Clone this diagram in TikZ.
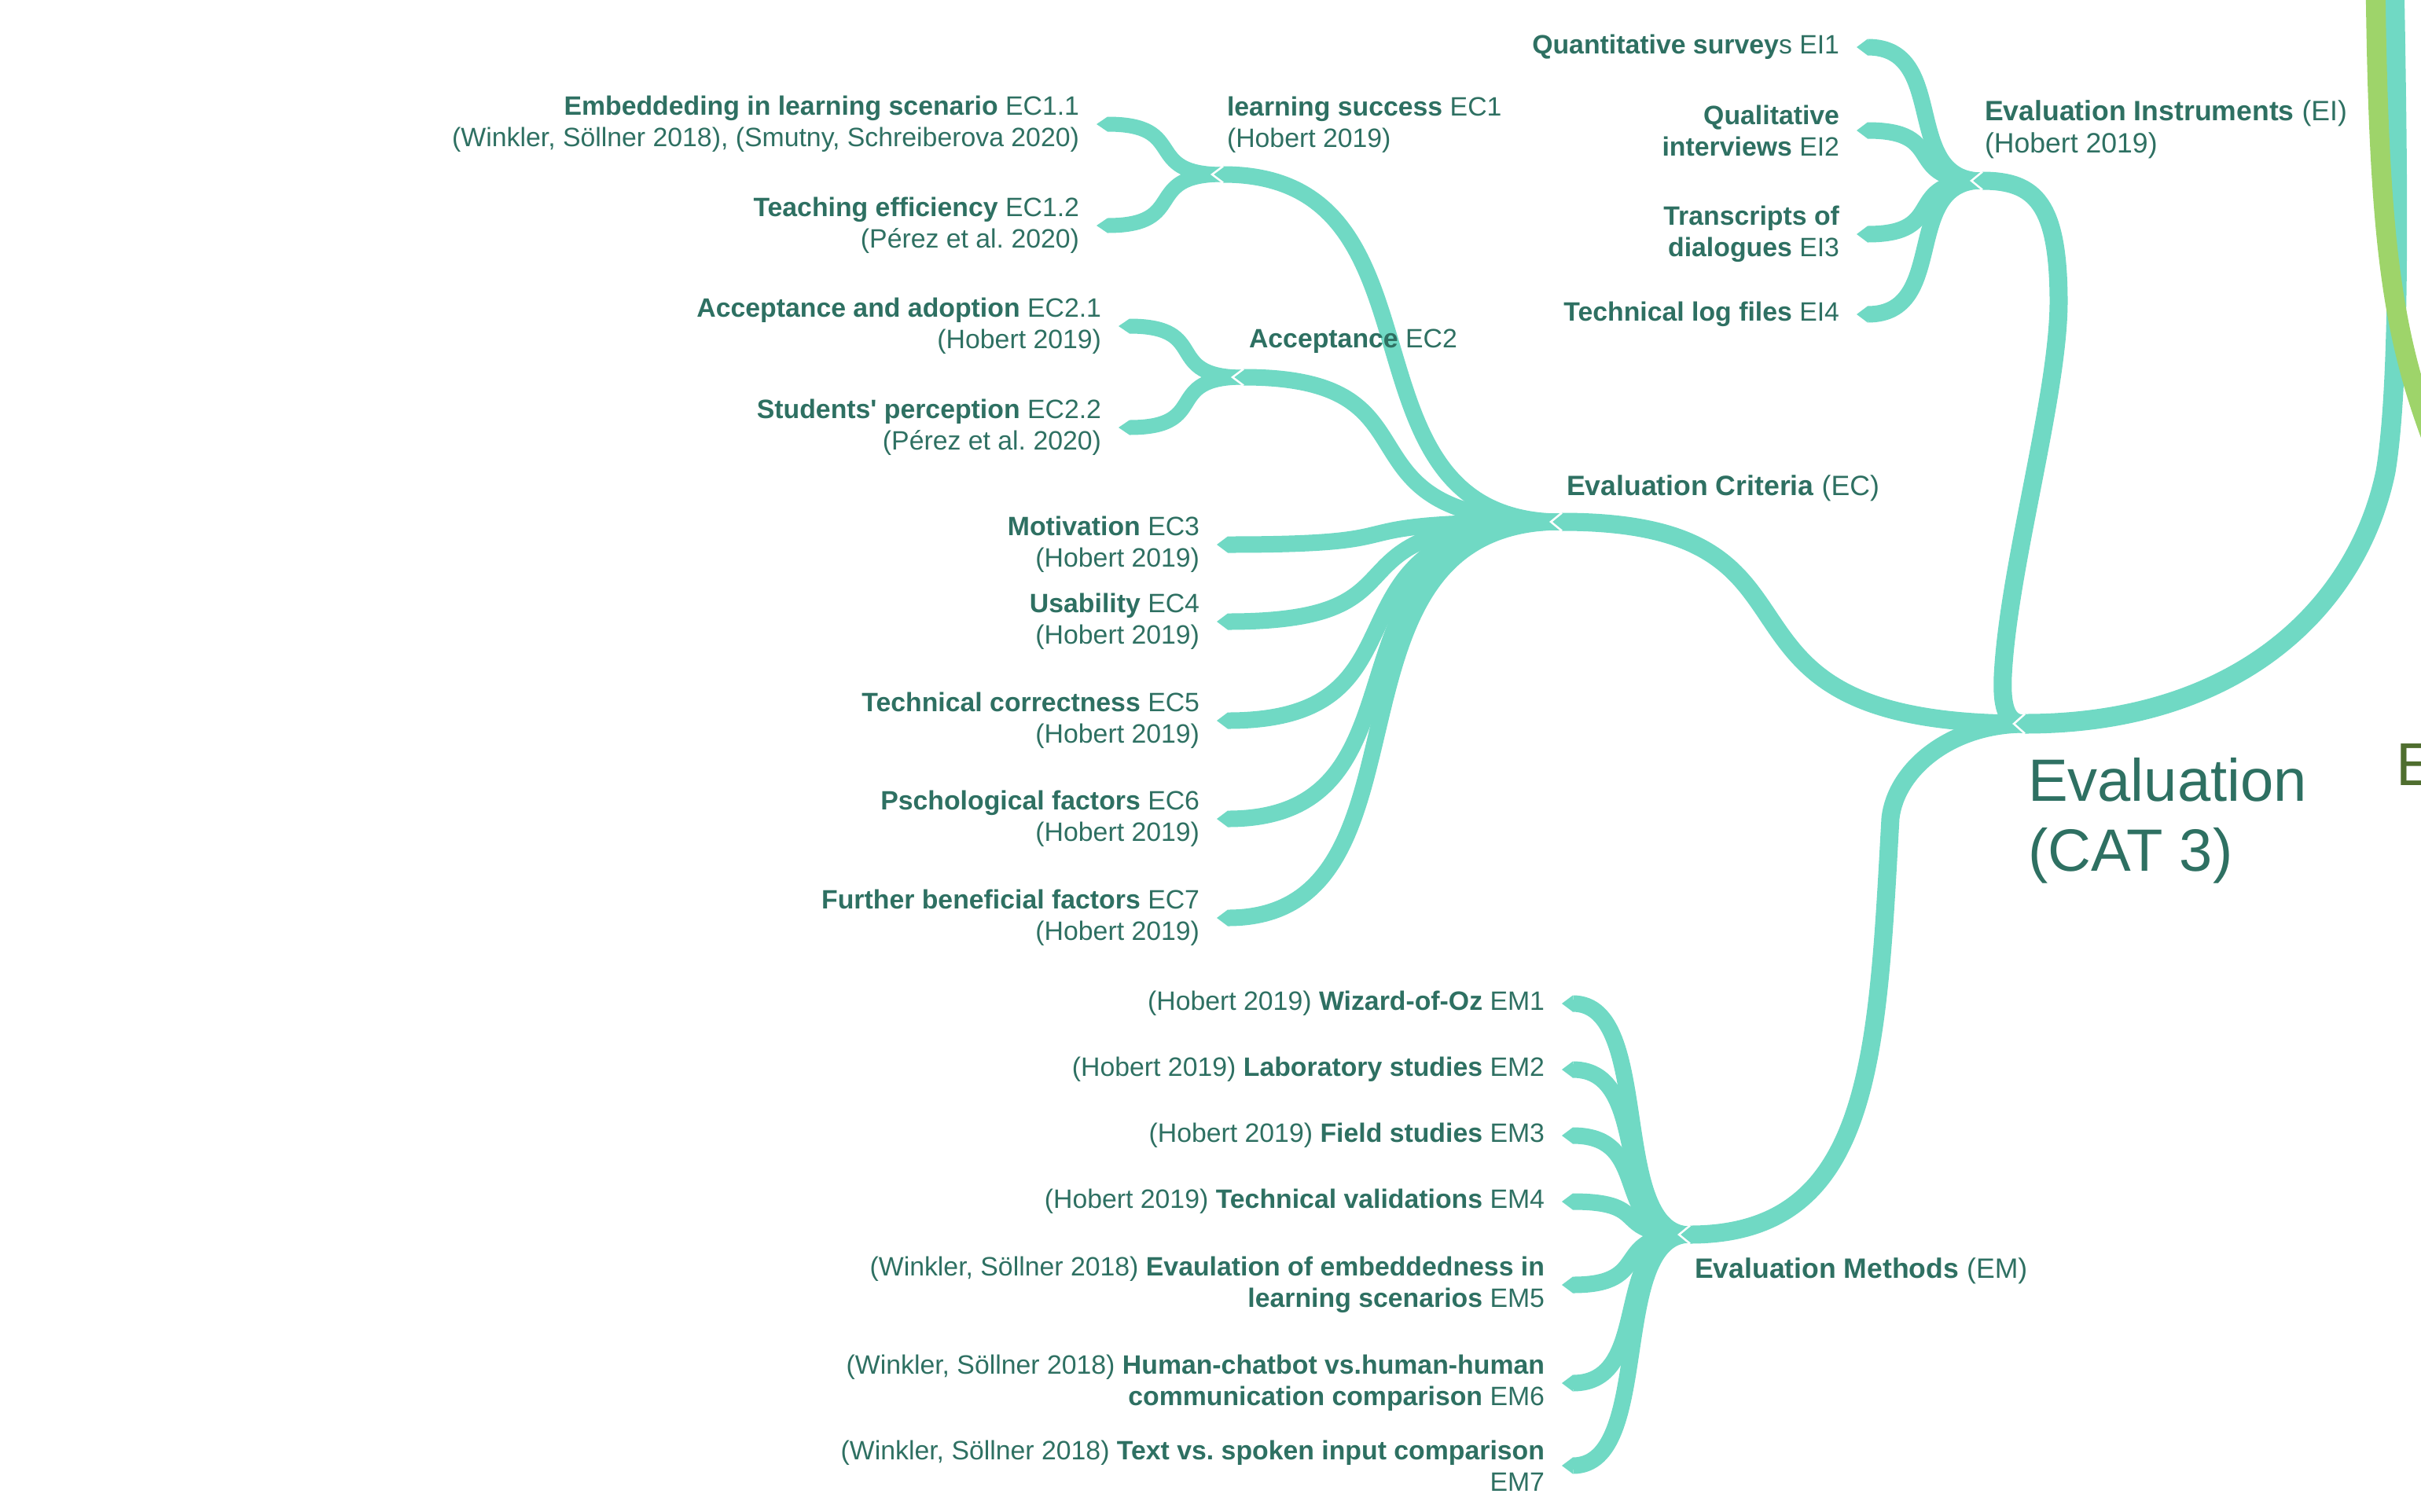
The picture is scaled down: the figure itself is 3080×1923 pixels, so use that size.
\documentclass[tikz,border=0pt]{standalone}
\usepackage{fontspec}
\setmainfont{Liberation Sans}
\usetikzlibrary{positioning}
\definecolor{branch}{HTML}{70D9C4}
\definecolor{ink}{HTML}{2E7062}
\definecolor{limb}{HTML}{9ED46A}
\definecolor{olive}{HTML}{4F6E2F}
\tikzset{
    every node/.style={inner sep=0pt, outer sep=0pt, text=ink,
    	font=\fontsize{33.8}{40}\selectfont},
    leaf/.style={anchor=east, align=right},
    sub/.style={anchor=west, align=left},
    topic/.style={anchor=west, align=left, font=\fontsize{35.6}{41}\selectfont},
    trunk/.style={draw=branch, line width=25pt},
    bough/.style={draw=branch, line width=23pt},
    twig/.style={draw=branch, line width=21pt},
    sprig/.style={draw=branch, line width=19pt},
    notch/.style={draw=white, line width=2.5pt, line join=miter}
}

\begin{document}
\begin{tikzpicture}[x=1pt, y=-1pt]
  \clip (0,0) rectangle (3080,1923);

  \coordinate (root) at (3046,-30);
  \coordinate (limb_a) at (3022,-30);
  \coordinate (limb_b) at (3110,600);
  \coordinate (eval) at (2576,921);
  \coordinate (ei) at (2522,230);
  \coordinate (ec) at (1987,664);
  \coordinate (em) at (2150,1571);
  \coordinate (ec_1) at (1556,222);
  \coordinate (ec_2) at (1582,480);
  \coordinate (ei_1) at (2376,60);
  \coordinate (ei_2) at (2376,166);
  \coordinate (ei_3) at (2376,298);
  \coordinate (ei_4) at (2376,400);
  \coordinate (ec_1_1) at (1409,158);
  \coordinate (ec_1_2) at (1409,287);
  \coordinate (ec_2_1) at (1437,415);
  \coordinate (ec_2_2) at (1437,544);
  \coordinate (ec_3) at (1562,693);
  \coordinate (ec_4) at (1562,791);
  \coordinate (ec_5) at (1562,917);
  \coordinate (ec_6) at (1562,1042);
  \coordinate (ec_7) at (1562,1168);
  \coordinate (em_1) at (2001,1277);
  \coordinate (em_2) at (2001,1361);
  \coordinate (em_3) at (2001,1445);
  \coordinate (em_4) at (2001,1529);
  \coordinate (em_5) at (2001,1635);
  \coordinate (em_6) at (2001,1760);
  \coordinate (em_7) at (2001,1865);

  \draw [trunk] (root) .. controls (3050,200) and (3055,480) .. (3035,600)
    .. controls (3000,770) and (2850,921) .. (eval);
  \draw [bough] (eval) .. controls +(-450,0) and +(380,0) .. (ec);
  \draw [bough] (eval) .. controls (2555,921) and (2546,905) .. (2548,860)
    .. controls (2555,720) and (2620,500) .. (2619,380)
    .. controls (2618,260) and (2590,230) .. (ei);
  \draw [bough] (eval) .. controls (2480,921) and (2412,980) .. (2405,1041)
    .. controls (2388,1345) and (2382,1571) .. (em);

  \draw [twig] (ec) .. controls +(-300,0) and +(300,0) .. (ec_1);
  \draw [twig] (ec) .. controls +(-310,0) and +(270,0) .. (ec_2);
  \foreach \n in {ec_3,ec_4,ec_5,ec_6,ec_7}
    \draw [twig] (ec) .. controls +(-330,0) and +(280,0) .. (\n);
  \foreach \n in {ec_1_1,ec_1_2}
    \draw [sprig] (ec_1) .. controls +(-105,0) and +(105,0) .. (\n);
  \foreach \n in {ec_2_1,ec_2_2}
    \draw [sprig] (ec_2) .. controls +(-105,0) and +(105,0) .. (\n);
  \foreach \n in {ei_1,ei_2,ei_3,ei_4}
    \draw [twig] (ei) .. controls +(-105,0) and +(105,0) .. (\n);
  \foreach \n in {em_1,em_2,em_3,em_4,em_5,em_6,em_7}
    \draw [twig] (em) .. controls +(-105,0) and +(105,0) .. (\n);

  \foreach \n/\h in {eval/12.5, ei/11.5, ec/11.5, em/11.5, ec_1/10.5, ec_2/10.5,
      ei_1/10.5, ei_2/10.5, ei_3/10.5, ei_4/10.5, ec_3/10.5, ec_4/10.5, ec_5/10.5,
      ec_6/10.5, ec_7/10.5, em_1/10.5, em_2/10.5, em_3/10.5, em_4/10.5, em_5/10.5,
      em_6/10.5, em_7/10.5, ec_1_1/9.5, ec_1_2/9.5, ec_2_1/9.5, ec_2_2/9.5}
    \fill [branch] (\n) ++(0,-\h) -- ++(-14,\h) -- ++(14,\h) -- cycle;
  \foreach \n/\h in {eval/12.5, ei/11.5, ec/11.5, em/11.5, ec_1/10.5, ec_2/10.5}
    \draw [notch] (\n) ++(0,-\h) -- ++(-14,\h) -- ++(14,\h);

  \draw [draw=limb, line width=25pt] (limb_a) .. controls (3026,330) and (3045,440) .. (limb_b);

  \node (eval_t) [anchor=west, align=left, font=\fontsize{76}{89.5}\selectfont] at (2580,1044.5) {Evaluation\\(CAT 3)};
  \node (next_t) [anchor=west, text=olive, font=\fontsize{77}{90}\selectfont] at (3048,972.5) {E};

  \node (ei_t) [topic] at (2525,165) {\textbf{Evaluation Instruments} (EI)\\(Hobert 2019)};
  \node (ec_t) [topic] at (1993,621) {\textbf{Evaluation Criteria} (EC)};
  \node (em_t) [topic] at (2156,1617) {\textbf{Evaluation Methods} (EM)};
  \node (ec_1_t) [sub] at (1561,159) {\textbf{learning success} EC1\\(Hobert 2019)};
  \node (ec_2_t) [sub] at (1589,434.5) {\textbf{Acceptance} EC2};

  \node (ei_1_t) [leaf, left=36pt of ei_1] {\textbf{Quantitative survey}s EI1};
  \node (ei_2_t) [leaf, left=36pt of ei_2] {\textbf{Qualitative}\\\textbf{interviews} EI2};
  \node (ei_3_t) [leaf, left=36pt of ei_3] {\textbf{Transcripts of}\\\textbf{dialogues} EI3};
  \node (ei_4_t) [leaf, left=36pt of ei_4] {\textbf{Technical log files} EI4};

  \node (ec_1_1_t) [leaf, left=36pt of ec_1_1] {\textbf{Embeddeding in learning scenario} EC1.1\\(Winkler, Söllner 2018), (Smutny, Schreiberova 2020)};
  \node (ec_1_2_t) [leaf, left=36pt of ec_1_2] {\textbf{Teaching efficiency} EC1.2\\(Pérez et al.\ 2020)};
  \node (ec_2_1_t) [leaf, left=36pt of ec_2_1] {\textbf{Acceptance and adoption} EC2.1\\(Hobert 2019)};
  \node (ec_2_2_t) [leaf, left=36pt of ec_2_2] {\textbf{Students\textquotesingle{} perception} EC2.2\\(Pérez et al.\ 2020)};
  \node (ec_3_t) [leaf, left=36pt of ec_3] {\textbf{Motivation} EC3\\(Hobert 2019)};
  \node (ec_4_t) [leaf, left=36pt of ec_4] {\textbf{Usability} EC4\\(Hobert 2019)};
  \node (ec_5_t) [leaf, left=36pt of ec_5] {\textbf{Technical correctness} EC5\\(Hobert 2019)};
  \node (ec_6_t) [leaf, left=36pt of ec_6] {\textbf{Pschological factors} EC6\\(Hobert 2019)};
  \node (ec_7_t) [leaf, left=36pt of ec_7] {\textbf{Further beneficial factors} EC7\\(Hobert 2019)};

  \node (em_1_t) [leaf, left=36pt of em_1] {(Hobert 2019) \textbf{Wizard-of-Oz} EM1};
  \node (em_2_t) [leaf, left=36pt of em_2] {(Hobert 2019) \textbf{Laboratory studies} EM2};
  \node (em_3_t) [leaf, left=36pt of em_3] {(Hobert 2019) \textbf{Field studies} EM3};
  \node (em_4_t) [leaf, left=36pt of em_4] {(Hobert 2019) \textbf{Technical validations} EM4};
  \node (em_5_t) [leaf, left=36pt of em_5] {(Winkler, Söllner 2018) \textbf{Evaulation of embeddedness in}\\\textbf{learning scenarios} EM5};
  \node (em_6_t) [leaf, left=36pt of em_6] {(Winkler, Söllner 2018) \textbf{Human-chatbot vs.human-human}\\\textbf{communication comparison} EM6};
  \node (em_7_t) [leaf, left=36pt of em_7] {(Winkler, Söllner 2018) \textbf{Text vs.\ spoken input comparison}\\EM7};
\end{tikzpicture}
\end{document}
